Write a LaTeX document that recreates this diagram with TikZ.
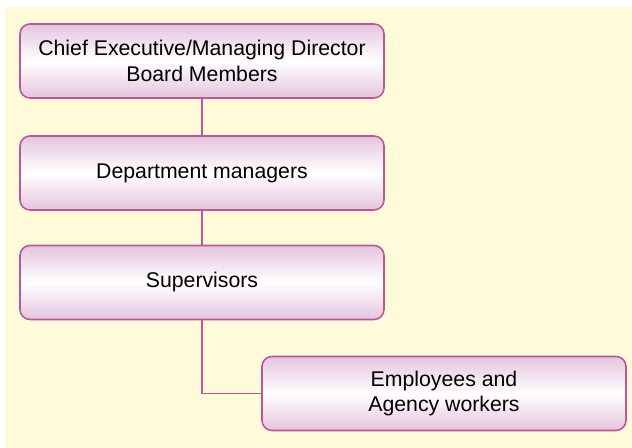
\documentclass[tikz,border=0pt]{standalone}
\usepackage{fontspec}
\setmainfont{Liberation Sans}
\usepackage{xcolor}
\usepackage{tikz}
\usetikzlibrary{calc}

\definecolor{bgcream}{RGB}{255,250,218}
\definecolor{boxpink}{RGB}{228,196,222}
\definecolor{boxedge}{RGB}{188,88,150}

\begin{document}
\begin{tikzpicture}[
    rolebox/.style={draw=boxedge, line width=0.9pt, rounded corners=0.2cm,
      top color=boxpink, bottom color=boxpink, middle color=white,
      minimum width=7.28cm, minimum height=1.48cm, align=center,
      font=\fontsize{12.1}{14.5}\selectfont},
    link/.style={draw=boxedge, line width=0.75pt}
  ]
  % Background
  \useasboundingbox (0, 0) rectangle (12.64, 8.96);
  \fill[bgcream] (0.1, 0) rectangle (12.64, 8.82);

  % Levels of the hierarchy
  \node[rolebox] (chief) at (4.04, 7.74) {Chief Executive/Managing Director\\Board Members};
  \node[rolebox] (dept) at (4.04, 5.5) {Department managers};
  \node[rolebox] (sup) at (4.04, 3.31) {Supervisors};
  \node[rolebox] (emp) at (8.88, 1.09) {Employees and\\Agency workers};

  % Reporting lines
  \draw[link] (chief) -- (dept);
  \draw[link] (dept) -- (sup);
  \draw[link] (sup.south) |- (emp.west);
\end{tikzpicture}
\end{document}
